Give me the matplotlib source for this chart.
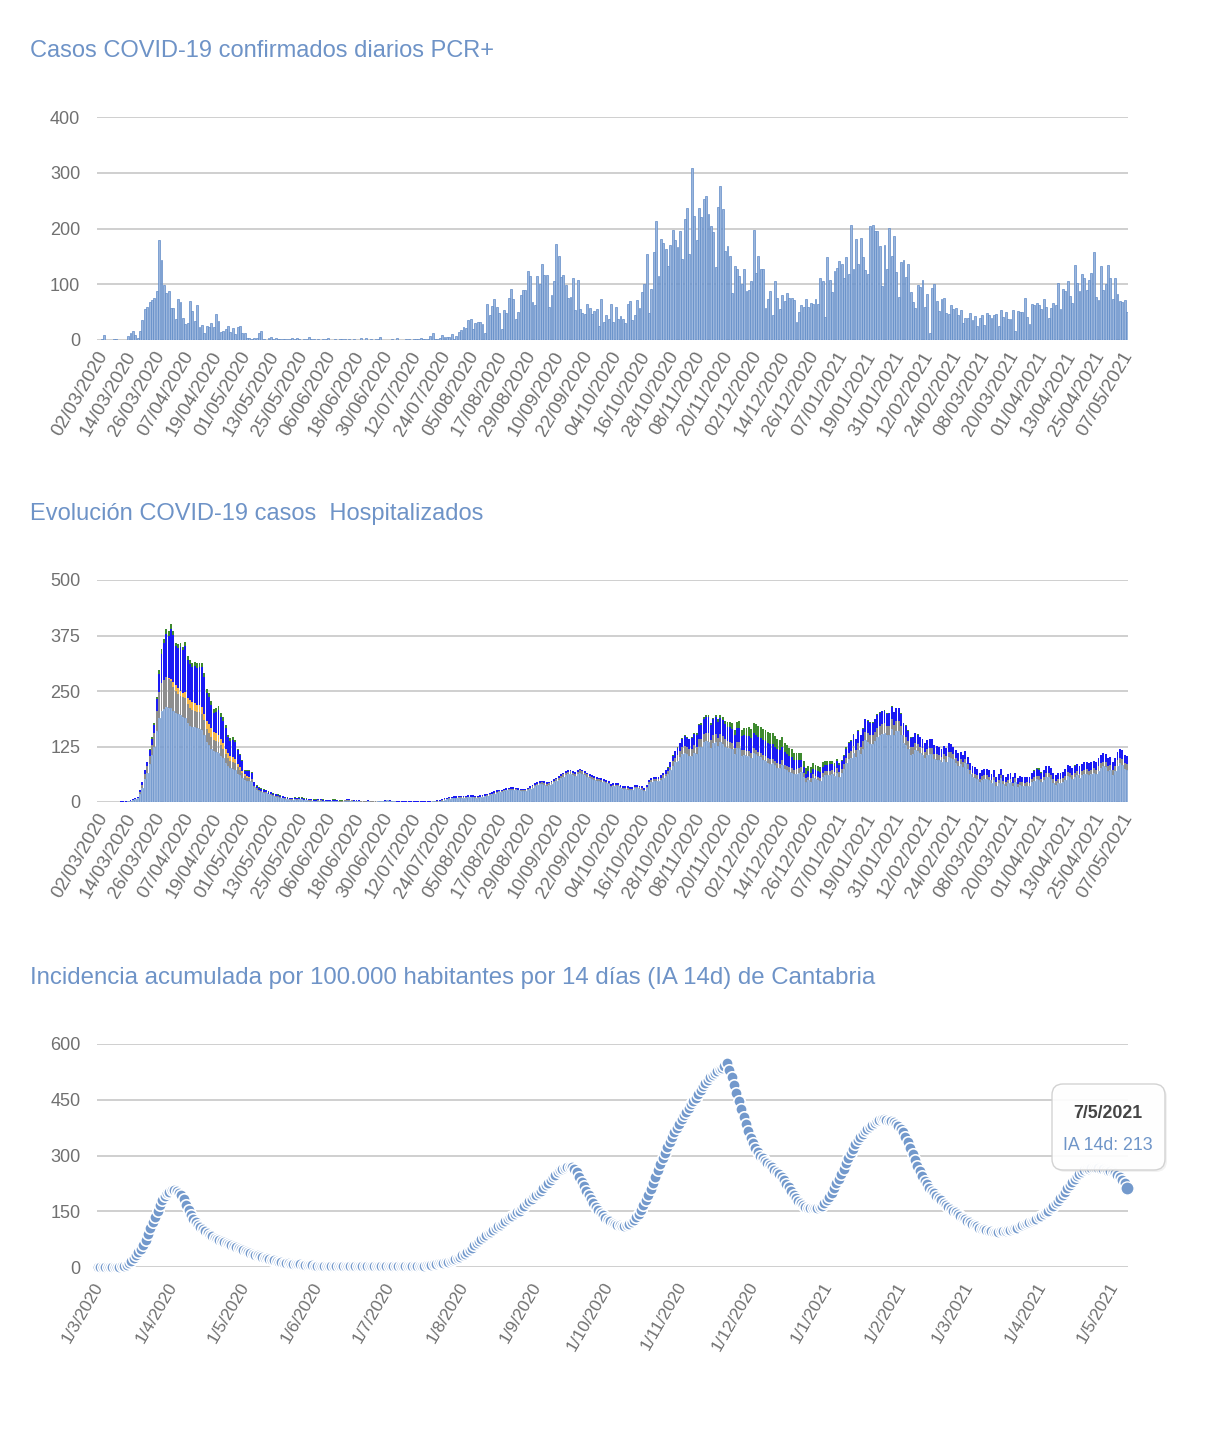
import matplotlib
matplotlib.use('Agg')
import matplotlib.pyplot as plt
import numpy as np
import datetime as dt
from matplotlib.patches import FancyBboxPatch
from matplotlib.transforms import ScaledTranslation, IdentityTransform

plt.rcParams['font.family'] = ['Liberation Sans', 'DejaVu Sans']

# ---------------- DATA ----------------
start_daily = dt.date(2020, 3, 2)   # first category of charts 1 and 2
start_ia = dt.date(2020, 3, 1)      # first point of chart 3

titles = ["Casos COVID-19 confirmados diarios PCR+",
          "Evolución COVID-19 casos  Hospitalizados",
          "Incidencia acumulada por 100.000 habitantes por 14 días (IA 14d) de Cantabria"]

bar_tick_labels = ['02/03/2020', '14/03/2020', '26/03/2020', '07/04/2020', '19/04/2020', '01/05/2020',
                   '13/05/2020', '25/05/2020', '06/06/2020', '18/06/2020', '30/06/2020', '12/07/2020',
                   '24/07/2020', '05/08/2020', '17/08/2020', '29/08/2020', '10/09/2020', '22/09/2020',
                   '04/10/2020', '16/10/2020', '28/10/2020', '08/11/2020', '20/11/2020', '02/12/2020',
                   '14/12/2020', '26/12/2020', '07/01/2021', '19/01/2021', '31/01/2021', '12/02/2021',
                   '24/02/2021', '08/03/2021', '20/03/2021', '01/04/2021', '13/04/2021', '25/04/2021',
                   '07/05/2021']

ia_tick_labels = ['1/3/2020', '1/4/2020', '1/5/2020', '1/6/2020', '1/7/2020', '1/8/2020', '1/9/2020',
                  '1/10/2020', '1/11/2020', '1/12/2020', '1/1/2021', '1/2/2021', '1/3/2021', '1/4/2021',
                  '1/5/2021']

pcr_cases = [
    1, 9, 0, 0, 0, 1, 1, 0, 0, 0, 0, 7, 12, 17, 9, 3, 17, 36, 55, 59,
    68, 72, 76, 88, 180, 143, 98, 85, 87, 58, 58, 38, 73, 69, 40, 28, 31, 70, 52, 34,
    63, 24, 27, 13, 25, 24, 31, 24, 46, 34, 14, 17, 19, 26, 14, 21, 10, 23, 26, 13,
    13, 4, 4, 2, 4, 4, 12, 16,
    1, 0, 3, 5, 2, 4, 1, 2, 2, 1, 2, 1, 3, 1, 3, 1, 0, 1, 2, 6,
    1, 1, 0, 2, 0, 1, 1, 3, 0, 0, 1, 0, 2, 1, 2, 0, 1, 0, 2, 0,
    0, 3, 0, 4, 0, 1, 0, 2, 1, 5, 0, 0, 0, 0, 1, 0, 3, 0, 0, 0,
    1, 1, 0, 1, 2, 1,
    3, 2, 2, 1, 8, 12, 2, 2, 4, 9, 6, 5, 5, 10, 2, 7, 14, 18, 23, 22,
    35, 37, 19, 30, 32, 32, 28, 13, 65, 44, 61, 74, 60, 48, 19, 53, 49, 76, 91, 74,
    37, 51, 81, 90, 89, 124, 114, 69, 62, 114, 101, 137, 116, 116, 60, 81, 105, 172, 150, 113,
    117, 99, 75, 78, 112, 53, 107, 56, 49, 46, 65, 57, 46, 52, 55, 25, 73, 33, 44, 38,
    64, 32, 60, 37, 43, 37, 31, 65, 70, 35, 45, 71, 58, 86, 100, 155, 48, 92, 157, 214,
    114, 181, 174, 164, 132, 171, 198, 179, 167, 196, 146, 217, 237, 154, 308, 222, 180, 236, 221, 253,
    258, 226, 204, 193, 131, 238, 277, 235, 160, 168, 151, 84, 133, 127, 115, 100, 128, 87, 89, 105,
    198, 120, 151, 128, 128, 57, 73,
    87, 44, 105, 75, 55, 81, 70, 84, 75, 75, 71, 32, 51, 62, 60, 74, 59, 67, 65, 73,
    64, 112, 105, 42, 149, 107, 86, 123, 130, 141, 136, 111, 149, 119, 207, 127, 181, 137, 183, 149,
    125, 118, 204, 206, 195, 195, 169, 97, 171, 128, 201, 151, 187, 122, 78, 140, 144, 113, 136, 86,
    68, 57, 98, 95, 107, 60, 83, 13, 93, 100, 70, 52, 74, 75, 48, 47, 62, 56, 58, 44,
    54, 31, 39, 40, 48, 36, 43, 26, 39, 44, 27, 48, 44, 39, 45, 46, 25, 54, 41, 50,
    38, 38, 54, 16, 52, 50, 50, 76, 42, 29, 65, 62, 67, 63, 55, 73, 60, 40, 57, 66,
    62, 102, 56, 92, 88, 105, 79, 66, 135, 102, 88, 119, 112, 90, 107, 120, 157, 77, 72, 133,
    89, 100, 135, 112, 74, 111, 83, 70, 69, 71, 50]

hosp_total = [
    0, 0, 0, 1, 1, 1, 1, 1, 2, 2, 2, 3, 5, 6, 9, 12,
    26, 44, 72, 91, 119, 146, 177, 237, 297, 344, 367, 389, 385, 402, 386, 359, 355, 357, 350, 360,
    329, 320, 314, 316, 312, 314, 314, 291, 255, 246, 228, 210, 212, 216, 200, 191, 173, 152, 144, 146,
    140, 120, 108, 95, 72, 71, 71, 68, 46, 38,
    33, 31, 29, 27, 24, 23, 20, 18, 17, 15, 14, 12, 11, 9, 9, 11, 9, 11, 11, 8,
    8, 7, 7, 6, 6, 7, 7, 6, 5, 5, 5, 6, 6, 5, 4, 4, 5, 6, 6, 5,
    4, 4, 4, 3, 3, 3, 4, 3, 3, 3, 3, 3, 3, 4, 5, 4, 3, 3, 2, 2,
    2, 2, 2, 2, 2, 2, 2, 2, 2, 2, 2, 2, 2, 3, 3,
    4, 5, 6, 8, 10, 11, 12, 13, 13, 14,
    14, 14, 14, 15, 15, 15, 14, 14, 15, 16, 17, 18, 20, 22, 24, 26, 27, 28, 30, 31,
    32, 33, 33, 32, 31, 30, 29, 30, 32, 35, 38, 42, 45, 47, 48, 47, 45, 46, 48, 52,
    55, 58, 62, 66, 70, 72, 73, 70, 68, 72, 75, 73, 70, 66, 62, 60, 58, 56,
    55, 54, 52, 50, 47, 41, 42, 42, 42, 38, 36, 36, 35, 33, 33, 38, 38, 37, 35, 31,
    38, 50, 54, 56, 56, 57, 61, 66, 71, 78,
    90, 105, 115, 123, 134, 145, 150, 147, 143, 146,
    156, 155, 176, 177, 191, 195, 195, 177, 190, 196,
    186, 197, 192, 183, 180, 180, 179, 162, 181, 183,
    162, 166, 166, 168, 164, 177, 176, 171, 170, 165,
    162, 157, 155, 156, 149, 143, 140, 146, 132, 128,
    122, 119, 111, 111, 111, 111, 93, 76, 81, 78,
    87, 83, 81, 78, 89, 92, 92, 92, 92, 87,
    96, 87, 95, 106, 123, 135, 140, 153, 143, 162,
    152, 166, 188, 185, 180, 180, 188, 198, 202, 206,
    207, 200, 201, 216, 203, 212, 212, 200, 179, 173,
    162, 146, 147, 156, 153, 147, 143, 134, 140, 143,
    141, 128, 126, 125, 119, 126, 121, 132, 131, 125,
    116, 110, 113, 106, 114, 101, 87, 80, 78, 74,
    65, 72, 74, 74, 71, 63, 71, 57, 63, 75,
    61, 57, 63, 65, 56, 66, 53, 59, 57, 56,
    57, 56, 66, 72, 77, 76, 68, 72, 80, 81,
    76, 66, 61, 65, 66, 68, 74, 83, 81, 76,
    83, 86, 81, 86, 89, 91, 87, 89, 93, 89,
    98, 106, 110, 108, 98, 101, 89, 98, 113, 119,
    116, 106, 104]

hosp_grey = (
    [0] * 16 +
    [4, 6, 10, 14, 18, 24, 30, 45, 58, 62, 65, 66, 64, 60, 55, 50, 45, 44, 44, 45,
     42, 40, 38, 38, 37, 37, 36, 34, 30, 28, 26, 25, 25, 25, 24, 22, 20, 18, 17, 17,
     16, 14, 12, 10, 8, 7, 7, 6, 4, 3] +
    [3, 3, 3, 2, 2, 2, 2, 2, 2, 2, 2, 1, 1, 1, 1, 1, 1, 1, 1, 1] +
    [1] * 30 + [0] * 25 +
    [1] * 10 +
    [1, 1, 1, 1, 1, 1, 1, 1, 1, 1, 1, 1, 2, 2, 2, 2, 2, 2, 2, 2] +
    [2, 2, 2, 2, 2, 2, 2, 2, 2, 3, 3, 3, 3, 3, 4, 4, 4, 4, 4, 4] +
    [4, 4, 5, 5, 5, 5, 5, 5, 5, 5, 5, 5, 5, 5, 4, 4, 4, 4] +
    [4, 4, 4, 4, 3, 3, 3, 3, 3, 3, 3, 3, 3, 3, 3, 3, 3, 3, 3, 3] +
    [3, 4, 4, 4, 4, 4, 5, 5, 6, 7,
     8, 10, 11, 12, 13, 14, 15, 15, 15, 16,
     17, 17, 18, 18, 19, 19, 19, 18, 18, 19,
     18, 18, 18, 17, 16, 15, 14, 13, 13, 13,
     12, 12, 12, 11, 11, 11, 10, 10, 10, 10,
     10, 10, 10, 10, 10, 10, 10, 10, 10, 10,
     10, 10, 10, 10, 10, 10, 9, 8, 8, 8,
     8, 8, 8, 8, 9, 9, 9, 9, 9, 9,
     10, 10, 10, 11, 12, 13, 14, 15, 15, 16,
     17, 18, 19, 19, 20, 20, 20, 21, 21, 21,
     21, 21, 21, 22, 22, 22, 22, 21, 20, 19,
     18, 17, 16, 16, 15, 15, 15, 14, 14, 14,
     13, 13, 13, 12, 12, 12, 12, 12, 12, 11,
     11, 11, 11, 10, 10, 10, 9, 9, 9, 9,
     8, 8, 8, 8, 8, 8, 8, 8, 8, 8,
     8, 8, 8, 8, 8, 8, 8, 8, 8, 8,
     8, 8, 8, 8, 8, 8, 8, 8, 9, 9,
     9, 9, 9, 9, 9, 9, 9, 9, 9, 9,
     9, 9, 9, 9, 10, 10, 10, 10, 10, 10,
     10, 10, 11, 11, 11, 11, 11, 11, 12, 12,
     12, 12, 12])

hosp_orange = ([0] * 28 +
               [3, 6, 10, 14, 14, 12, 10, 12, 15, 18, 18, 17, 16, 16, 15, 15, 18, 20, 20, 18,
                18, 16, 14, 12, 12, 12, 10, 10, 9, 8, 6, 5, 4, 3, 2] +
               [0] * 369)

hosp_blue = (
    [0, 0, 0, 1, 1, 1, 1, 1, 1, 1, 1, 1, 2, 2, 3, 4] +
    [4, 6, 10, 10, 13, 14, 18, 26, 41, 67, 82, 97, 96, 112, 106, 87, 90, 98, 96, 104,
     85, 80, 78, 83, 83, 86, 90, 83, 63, 61, 53, 44, 48, 56, 50, 51, 46, 36, 35, 39,
     38, 30, 27, 22, 8, 11, 13, 14, 8, 6] +
    [5, 5, 5, 4, 4, 4, 4, 3, 3, 3, 3, 3, 3, 2, 2, 3, 2, 3, 3, 2] +
    [2, 2, 2, 2, 2, 2, 2, 2, 1, 1, 1, 2, 2, 1, 1, 1, 1, 2, 2, 1] + [1] * 35 +
    [2, 2, 2, 2, 3, 3, 3, 3, 3, 3] +
    [3] * 20 +
    [3, 3, 3, 3, 3, 3, 3, 3, 3, 3, 3, 4, 4, 4, 4, 4, 4, 4, 4, 4] +
    [4] * 18 +
    [4] * 20 +
    [4, 5, 5, 5, 5, 5, 6, 6, 7, 8,
     10, 12, 14, 16, 18, 20, 22, 22, 22, 24,
     26, 27, 30, 32, 34, 36, 37, 35, 36, 37,
     36, 36, 35, 34, 33, 32, 32, 30, 32, 32,
     32, 33, 33, 33, 33, 34, 34, 34, 34, 34,
     34, 34, 34, 34, 32, 32, 30, 30, 28, 27,
     26, 25, 22, 20, 18, 16, 13, 11, 12, 12,
     13, 13, 13, 13, 14, 14, 15, 15, 15, 15,
     16, 16, 17, 18, 20, 22, 23, 25, 24, 26,
     25, 26, 28, 28, 28, 28, 28, 29, 29, 29,
     29, 28, 28, 29, 28, 29, 29, 28, 26, 25,
     24, 22, 22, 22, 22, 21, 21, 20, 20, 20,
     20, 19, 19, 19, 18, 18, 18, 19, 19, 18,
     18, 17, 17, 17, 17, 16, 15, 14, 14, 14,
     13, 14, 14, 14, 14, 13, 14, 13, 13, 14,
     13, 13, 13, 13, 13, 13, 12, 13, 13, 13,
     13, 13, 14, 14, 15, 15, 14, 14, 15, 15,
     15, 14, 14, 14, 14, 14, 15, 16, 16, 15,
     16, 16, 16, 16, 17, 17, 17, 17, 17, 17,
     18, 19, 19, 19, 18, 18, 17, 18, 19, 20,
     20, 19, 19])

hosp_green = (
    [0] * 19 +
    [1, 2, 3, 4, 6, 8, 10, 10, 11, 10, 12, 10, 8, 8, 8, 8, 9, 9, 10, 10,
     10, 10, 10, 10, 9, 9, 9, 9, 9, 9, 9, 8, 8, 7, 6, 6, 6, 5, 4, 3,
     3, 2, 2, 2, 2, 1, 1] +
    [1] * 20 +
    [1] * 16 + [0] * 39 +
    [0] * 88 +
    [0, 0, 0, 0, 0, 0, 0, 0, 0, 1,
     1, 1, 1, 2, 2, 2, 2, 2, 2, 2,
     2, 3, 3, 3, 3, 3, 3, 3, 4, 5,
     6, 8, 8, 8, 10, 12, 14, 10, 14, 16,
     14, 16, 18, 20, 20, 22, 24, 24, 25, 26,
     25, 25, 25, 25, 24, 24, 24, 22, 20, 19,
     18, 18, 17, 17, 17, 17, 14, 12, 12, 12,
     12, 11, 11, 10, 10, 9, 8, 7, 6, 5,
     4, 4, 3, 3, 3, 3, 3, 2, 2, 2,
     2, 2, 2, 2, 2, 2, 2, 2, 2, 2,
     1, 1, 1, 1, 1, 1, 1, 1, 1, 1,
     1, 1, 1, 1, 1, 1, 1, 1, 1, 1,
     0, 0, 0, 0, 0, 0, 0, 0, 0, 0,
     0, 0, 0, 0, 0, 0, 0, 0, 0, 0,
     0, 0, 0, 0, 0, 0, 0, 0, 0, 0,
     0, 0, 0, 0, 0, 0, 0, 0, 0, 0,
     0, 0, 0, 2, 3, 3, 2, 1, 0, 0,
     0, 0, 0, 0, 0, 0, 0, 0, 0, 0,
     1, 1, 1, 1, 0, 0, 0, 0, 0, 0,
     0, 0, 0, 0, 0, 0, 0, 0, 0, 0,
     0, 0, 0])

ia14 = (
    [0, 0, 0, 0, 0, 0, 1, 1, 1, 1, 2, 3] +
    [6, 10, 17, 25, 32, 40, 48, 60, 73, 88, 105, 120, 135, 150, 167, 180, 192, 199, 203, 206,
     207, 205, 200, 194, 182, 167, 153, 140, 130, 121, 114, 108, 102, 97] +
    [91, 87, 83, 79, 76, 73, 70, 67, 64, 61, 59, 56, 53, 50, 48, 46, 43, 40, 38, 35,
     33, 31, 29, 27, 25, 23, 21, 19, 18, 16, 14, 13, 12, 11, 10, 9, 8, 8, 7, 7] +
    [6, 6, 5, 5, 5, 4, 4, 4, 4, 3, 3, 3, 3, 3, 3, 3, 2, 2, 2, 2,
     2, 2, 2, 2, 2, 2, 2, 2, 2, 2, 2, 2, 2, 3, 3, 3, 3, 3, 3, 3,
     3, 3, 3, 3, 3, 3, 3, 3, 4, 4, 4, 4, 5] +
    [5, 6, 7, 8, 10, 11, 12, 13, 14, 16,
     18, 21, 24, 27, 31, 36, 41, 46, 52, 58,
     65, 71, 76, 81, 86, 91, 95, 100, 104, 109,
     113, 118, 123, 128, 134, 138, 143, 148, 152, 158,
     164, 171, 178, 184, 190, 195, 200, 205, 212, 220,
     227, 234, 241, 248, 255, 260, 264, 267, 269, 270,
     268, 264, 255, 243, 230, 217, 204, 193, 182, 172,
     162, 153, 146, 139, 133, 127, 123, 119, 116, 114,
     112, 111, 111, 113, 116, 120, 126, 134, 143, 153,
     166, 180, 195, 210, 226, 243, 260, 276, 292, 307,
     322, 336, 349, 362, 374, 386, 397, 408, 418, 428,
     438, 447, 456, 466, 476, 486, 495, 503, 510, 517,
     523, 528, 532, 536, 540, 548, 530, 510, 490, 468,
     446, 424, 404, 384, 366, 348, 333, 320, 309, 300,
     292, 286, 280, 274, 268, 262, 256, 249, 242, 234,
     224, 214, 204, 194, 185, 177, 171, 166, 162, 160,
     159, 158, 158, 159, 161, 165, 171, 179, 189, 200,
     212, 225, 238, 251, 265, 279, 293, 306, 318, 330,
     341, 351, 359, 366, 372, 378, 383, 388, 392, 395,
     397, 397, 396, 394, 392, 390, 386, 380, 372, 362,
     350, 336, 320, 304, 288, 272, 257, 244, 232, 222,
     213, 205, 198, 191, 185, 179, 173, 167, 162, 157,
     152, 147, 142, 137, 132, 128, 124, 120, 116, 112,
     109, 106, 103, 101, 99, 97, 96, 95, 95, 95,
     96, 97, 98, 99, 100, 102, 104, 106, 109, 112,
     115, 118, 121, 124, 127, 130, 134, 138, 142, 147,
     152, 158, 164, 171, 178, 186, 194, 203, 212, 221,
     230, 238, 245, 251, 256, 260, 263, 265, 266, 267,
     267, 266, 265, 263, 261, 259, 257, 255, 252, 248,
     242, 235, 226, 213])

# ---------------- STYLE ----------------
W, H = 1228, 1440
TITLE_C = '#6E93C7'
TICK_C = '#707070'
GRID_C = '#CCCCCC'
BAR_FACE = '#9BB6DD'
BAR_EDGE = '#5F8AC7'
PT_C = '#7399CC'

fig = plt.figure(figsize=(W / 100, H / 100), dpi=100)
fig.patch.set_facecolor('white')


def fx(px):
    return px / W


def fy(py):
    return 1 - py / H


def style_axis(ax, yticks):
    for s in ax.spines.values():
        s.set_visible(False)
    ax.set_ylim(yticks[0], yticks[-1])
    ax.set_yticks(yticks)
    ax.yaxis.grid(True, color=GRID_C, linewidth=1.3, zorder=0)
    ax.set_axisbelow(True)
    ax.tick_params(axis='y', length=0, pad=12, labelsize=13, labelcolor=TICK_C)
    ax.tick_params(axis='x', length=0, labelcolor=TICK_C)


def rot_labels(ax, dx_px, pad_pt, size):
    ax.tick_params(axis='x', pad=pad_pt, labelsize=size)
    for lab in ax.get_xticklabels():
        lab.set_rotation(60)
        lab.set_ha('right')
        lab.set_va('top')
        lab.set_transform(lab.get_transform() + ScaledTranslation(dx_px / 100, 0, fig.dpi_scale_trans))


n = len(pcr_cases)
dates = [start_daily + dt.timedelta(days=i) for i in range(n)]
date_strs = [d.strftime('%d/%m/%Y') for d in dates]
bar_tick_pos = [date_strs.index(s) for s in bar_tick_labels]
x = np.arange(n)

TITLE_SIZE = 17

# ---------- Chart 1 ----------
fig.text(fx(30), fy(51), titles[0], fontsize=TITLE_SIZE, color=TITLE_C, va='center', ha='left')
ax1 = fig.add_axes([fx(97), fy(340), fx(1128) - fx(97), (340 - 117) / H])
ax1.bar(x, pcr_cases, width=0.8, color=BAR_FACE, edgecolor=BAR_EDGE, linewidth=0.5, zorder=2)
style_axis(ax1, [0, 100, 200, 300, 400])
ax1.set_xlim(-2.1, n - 0.6)
ax1.set_xticks(bar_tick_pos)
ax1.set_xticklabels(bar_tick_labels)
rot_labels(ax1, 9, 6, 13.6)

# ---------- Chart 2 ----------
fig.text(fx(30), fy(514), titles[1], fontsize=TITLE_SIZE, color=TITLE_C, va='center', ha='left')
ax2 = fig.add_axes([fx(97), fy(802), fx(1128) - fx(97), (802 - 580) / H])
tot = np.array(hosp_total, float)
grey = np.array(hosp_grey, float)
orange = np.array(hosp_orange, float)
blue = np.array(hosp_blue, float)
green = np.array(hosp_green, float)
base = np.clip(tot - grey - orange - blue - green, 0, None)
bottom = np.zeros(n)
layers = [(base, BAR_FACE, '#6C95CC', 0.5), (grey, '#8E8E8E', '#8E8E8E', 0.0),
          (orange, '#F6B84A', '#F6B84A', 0.0), (blue, '#1A1AF4', '#1A1AF4', 0.0),
          (green, '#3E8A2F', '#3E8A2F', 0.0)]
for vals, fc, ec, lw in layers:
    ax2.bar(x, vals, bottom=bottom, width=0.8, color=fc, edgecolor=ec, linewidth=lw, zorder=2)
    bottom = bottom + vals
style_axis(ax2, [0, 125, 250, 375, 500])
ax2.set_xlim(-2.1, n - 0.6)
ax2.set_xticks(bar_tick_pos)
ax2.set_xticklabels(bar_tick_labels)
rot_labels(ax2, 9, 6, 13.6)

# ---------- Chart 3 ----------
fig.text(fx(30), fy(978), titles[2], fontsize=TITLE_SIZE + 0.3, color=TITLE_C, va='center', ha='left')
ax3 = fig.add_axes([fx(97), fy(1267), fx(1128) - fx(97), (1267 - 1044) / H])
m = len(ia14)
x3 = np.arange(m)
ia_dates = [start_ia + dt.timedelta(days=i) for i in range(m)]
ia_strs = ['%d/%d/%d' % (d.day, d.month, d.year) for d in ia_dates]
ia_tick_pos = [ia_strs.index(s) for s in ia_tick_labels]
ax3.plot(x3, ia14, linestyle='none', marker='o', markersize=8.2, markerfacecolor=PT_C,
         markeredgecolor='white', markeredgewidth=1.2, clip_on=False, zorder=3)
ax3.plot([x3[-1]], [ia14[-1]], linestyle='none', marker='o', markersize=9.5, markerfacecolor=PT_C,
         markeredgecolor='white', markeredgewidth=1.0, clip_on=False, zorder=4)
style_axis(ax3, [0, 150, 300, 450, 600])
px_per_day = (1127 - 96) / (m - 1)
ax3.set_xlim(-1 / px_per_day, (1128 - 96) / px_per_day)
ax3.set_xticks(ia_tick_pos)
ax3.set_xticklabels(ia_tick_labels)
rot_labels(ax3, 8, 9, 12.4)

# tooltip
shadow = FancyBboxPatch((1054, H - 1172), 113, 86, boxstyle='round,pad=0,rounding_size=11',
                        transform=IdentityTransform(), facecolor='#000000', alpha=0.05,
                        edgecolor='none', zorder=9)
box = FancyBboxPatch((1052, H - 1170), 113, 86, boxstyle='round,pad=0,rounding_size=11',
                     transform=IdentityTransform(), facecolor='white', alpha=0.93,
                     edgecolor='#CFCFCF', linewidth=1.0, zorder=10)
fig.add_artist(shadow)
fig.add_artist(box)
fig.text(fx(1108), fy(1113), ia_strs[-1], fontsize=12.8, fontweight='bold', color='#454545',
         ha='center', va='center', zorder=11)
fig.text(fx(1108), fy(1146), 'IA 14d: %d' % ia14[-1], fontsize=12.8, color='#6F95C8',
         ha='center', va='center', zorder=11)

fig.savefig('out.png', dpi=100, facecolor='white')
